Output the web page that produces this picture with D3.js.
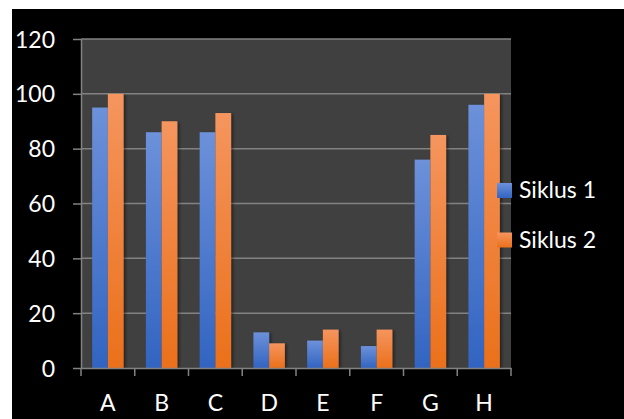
<!DOCTYPE html>
<html>
<head>
<meta charset="utf-8">
<script src="https://cdn.jsdelivr.net/npm/d3@7"></script>
<style>
  html, body { margin: 0; padding: 0; background: #ffffff; }
  svg { display: block; }
  text { font-family: Lato, "Open Sans", sans-serif; fill: #ffffff; }
</style>
</head>
<body>
<svg id="chart" width="624" height="419"></svg>
<script>
// Chart data
const categories = ["A", "B", "C", "D", "E", "F", "G", "H"];
const seriesNames = ["Siklus 1", "Siklus 2"];
const siklus1 = [95, 86, 86, 13, 10, 8, 76, 96];
const siklus2 = [100, 90, 93, 9, 14, 14, 85, 100];
const yTicks = [0, 20, 40, 60, 80, 100, 120];

const seriesValues = [siklus1, siklus2];
const colors = [
  { top: "#6d91da", bottom: "#3264c1" },
  { top: "#f5955e", bottom: "#eb701b" }
];
const FONT_SIZE = 23;

const svg = d3.select("#chart");
const W = 624, H = 419;

// Black chart frame
svg.append("rect").attr("x", 12).attr("y", 9).attr("width", W - 12).attr("height", H - 9).attr("fill", "#000000");

const plot = { left: 81, right: 511, top: 39, bottom: 368 };

const x = d3.scaleBand().domain(categories).range([plot.left, plot.right]).paddingInner(0).paddingOuter(0);
const x1 = d3.scaleBand().domain(seriesNames).range([0, x.bandwidth()]).paddingInner(0).paddingOuter(0.71);
const y = d3.scaleLinear().domain([0, 120]).range([plot.bottom, plot.top]);

const defs = svg.append("defs");
colors.forEach((c, i) => {
  const g = defs.append("linearGradient").attr("id", "grad" + i)
    .attr("x1", 0).attr("y1", 0).attr("x2", 0).attr("y2", 1);
  g.append("stop").attr("offset", "0%").attr("stop-color", c.top);
  g.append("stop").attr("offset", "100%").attr("stop-color", c.bottom);
});
const shadow = defs.append("filter").attr("id", "shadow")
  .attr("x", "-30%").attr("y", "-10%").attr("width", "160%").attr("height", "120%");
shadow.append("feDropShadow").attr("dx", 2).attr("dy", 1).attr("stdDeviation", 1.5)
  .attr("flood-color", "#000000").attr("flood-opacity", 0.45);

// Plot background
svg.append("rect")
  .attr("x", plot.left).attr("y", plot.top)
  .attr("width", plot.right - plot.left).attr("height", plot.bottom - plot.top)
  .attr("fill", "#404040");

// Gridlines
svg.append("g").selectAll("line").data(yTicks.filter(t => t > 0)).join("line")
  .attr("x1", plot.left).attr("x2", plot.right)
  .attr("y1", d => y(d)).attr("y2", d => y(d))
  .attr("stroke", "#828282").attr("stroke-width", 1.5);

// Bars
const groups = svg.append("g").selectAll("g").data(categories).join("g")
  .attr("transform", d => `translate(${x(d)},0)`);
groups.selectAll("rect")
  .data((d, i) => seriesNames.map((s, si) => ({ s, si, v: seriesValues[si][i] })))
  .join("rect")
  .attr("x", d => x1(d.s))
  .attr("width", x1.bandwidth())
  .attr("y", d => y(d.v))
  .attr("height", d => y(0) - y(d.v))
  .attr("fill", d => `url(#grad${d.si})`)
  .attr("filter", "url(#shadow)");

// Y axis
const yAxis = d3.axisLeft(y).tickValues(yTicks).tickSize(8).tickPadding(18).tickSizeOuter(0);
const gy = svg.append("g").attr("transform", `translate(${plot.left},0)`).call(yAxis);
gy.select(".domain").attr("stroke", "#828282").attr("stroke-width", 1.5);
gy.selectAll(".tick line").attr("stroke", "#828282").attr("stroke-width", 1.5);
gy.selectAll(".tick text").attr("fill", "#ffffff").attr("font-size", FONT_SIZE)
  .attr("font-family", "Lato, 'Open Sans', sans-serif").attr("dy", "0.35em");

// X axis
const xAxis = d3.axisBottom(x).tickSize(0).tickPadding(0).tickSizeOuter(0);
const gx = svg.append("g").attr("transform", `translate(0,${plot.bottom})`).call(xAxis);
gx.select(".domain").attr("stroke", "#828282").attr("stroke-width", 1.5);
gx.selectAll(".tick text").attr("fill", "#ffffff").attr("font-size", FONT_SIZE)
  .attr("font-family", "Lato, 'Open Sans', sans-serif").attr("y", 43).attr("dy", 0);
// Category boundary ticks
const boundaries = categories.map(c => x(c)).concat([x.range()[1]]);
gx.append("g").selectAll("line").data(boundaries).join("line")
  .attr("x1", d => d).attr("x2", d => d).attr("y1", 0).attr("y2", 8)
  .attr("stroke", "#828282").attr("stroke-width", 1.5);

// Legend
const legend = svg.append("g").selectAll("g").data(seriesNames).join("g")
  .attr("transform", (d, i) => `translate(497,${183 + i * 49.5})`);
legend.append("rect").attr("width", 15).attr("height", 15)
  .attr("fill", (d, i) => `url(#grad${i})`);
legend.append("text").attr("x", 22).attr("y", 15)
  .attr("font-size", FONT_SIZE).text(d => d);
</script>
</body>
</html>
